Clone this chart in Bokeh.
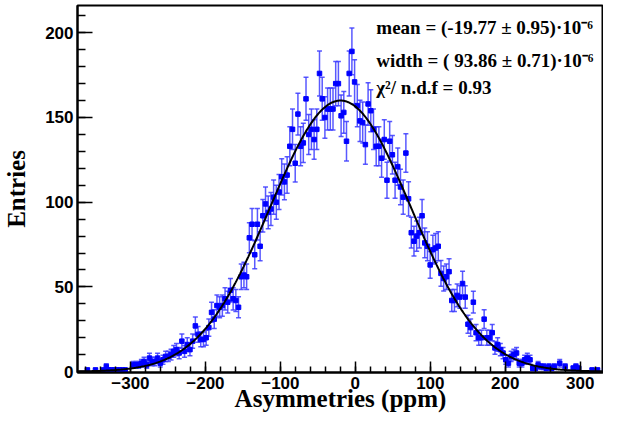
import numpy as np
from bokeh.plotting import figure
from bokeh.models import ColumnDataSource, Whisker, TeeHead, FixedTicker, Label, Range1d
from bokeh.embed import file_html
from bokeh.resources import INLINE

# ---------------- data ----------------
bin_low = -370.0
bin_width = 3.6
counts = [
    0, 0, 0, 1, 0, 0, 1, 0, 0, 1,
    3, 1, 1, 1, 1, 1, 1, 1, 0, 0,
    4, 4, 4, 5, 6, 4, 8, 6, 6, 8,
    5, 7, 9, 9, 10, 12, 13, 11, 18, 12,
    16, 13, 18, 27, 22, 19, 19, 20, 26, 35,
    31, 39, 38, 39, 43, 41, 48, 43, 42, 38,
    56, 57, 56, 79, 87, 69, 87, 74, 92, 99,
    94, 96, 103, 100, 106, 115, 112, 116, 133, 143,
    123, 152, 133, 135, 161, 140, 143, 137, 143, 176,
    161, 150, 155, 155, 155, 170, 170, 151, 153, 136,
    176, 189, 171, 157, 148, 147, 134, 158, 154, 143,
    133, 133, 126, 137, 113, 136, 128, 113, 121, 109,
    103, 129, 102, 82, 77, 80, 82, 92, 76, 74,
    63, 72, 73, 74, 58, 55, 56, 59, 42, 42,
    45, 44, 52, 44, 28, 26, 41, 23, 20, 20,
    31, 20, 20, 23, 14, 16, 13, 11, 7, 5,
    9, 10, 11, 5, 5, 7, 8, 7, 2, 2,
    4, 3, 3, 2, 3, 2, 3, 0, 5, 0,
    3, 0, 0, 2, 3, 2, 0, 0, 0, 0,
    1, 0, 1, 0, 0, 1, 0, 0, 0, 0,
]
fit_mean = -19.77
fit_width = 93.86
fit_amplitude = 160.0

x_major_ticks = [-300, -200, -100, 0, 100, 200, 300]
x_minor_ticks = list(range(-360, 340, 20))
y_major_ticks = [0, 50, 100, 150, 200]
y_minor_ticks = list(range(0, 216, 10))

x_title = "Asymmetries (ppm)"
y_title = "Entries"
stat_lines = [
    "mean = (-19.77 \u00b1 0.95)\u00b710\u207b\u2076",
    "width = ( 93.86 \u00b1 0.71)\u00b710\u207b\u2076",
    "\u03c7\u00b2/ n.d.f = 0.93",
]

# ---------------- derived ----------------
counts = np.array(counts, dtype=float)
centers = bin_low + bin_width * (np.arange(len(counts)) + 0.5)
mask = counts > 0
errs = np.sqrt(counts)
src = ColumnDataSource(dict(x=centers[mask], y=counts[mask],
                            lo=(counts - errs)[mask], hi=(counts + errs)[mask]))

xf = np.linspace(-370, 350, 600)
yf = fit_amplitude * np.exp(-0.5 * ((xf - fit_mean) / fit_width) ** 2)

# ---------------- figure ----------------
p = figure(width=603, height=415, output_backend="svg", toolbar_location=None,
           x_range=Range1d(-370.6, 331.0), y_range=Range1d(-0.5, 216.1),
           min_border_left=75, min_border_right=0, min_border_top=5, min_border_bottom=43)
p.xgrid.visible = False
p.ygrid.visible = False
p.outline_line_color = "black"
p.outline_line_width = 2
p.background_fill_color = "white"
p.border_fill_color = "white"

ebar = "#3c3cff"
whisk = Whisker(source=src, base="x", upper="hi", lower="lo", dimension="height",
                line_color=ebar, line_alpha=0.85, line_width=1.5,
                upper_head=TeeHead(size=5, line_color=ebar, line_alpha=0.85, line_width=1.5),
                lower_head=TeeHead(size=5, line_color=ebar, line_alpha=0.85, line_width=1.5))
p.add_layout(whisk)
p.scatter("x", "y", source=src, marker="square", size=4.5, color="#0000ff")
p.line(xf, yf, line_color="black", line_width=2)

for ax, maj, mnr, tin, tmin in ((p.xaxis, x_major_ticks, x_minor_ticks, 11, 6),
                                (p.yaxis, y_major_ticks, y_minor_ticks, 15, 8)):
    ax.ticker = FixedTicker(ticks=maj, minor_ticks=mnr)
    ax.major_tick_in = tin
    ax.major_tick_out = 0
    ax.minor_tick_in = tmin
    ax.minor_tick_out = 0
    ax.axis_line_width = 2
    ax.major_tick_line_width = 1.5
    ax.minor_tick_line_width = 1.5
    ax.major_label_text_font = "Liberation Sans"
    ax.major_label_text_font_style = "bold"
    ax.major_label_text_font_size = "17px"
    ax.major_label_text_color = "black"
    ax.axis_label_text_font = "Liberation Serif"
    ax.axis_label_text_font_style = "bold"
    ax.axis_label_text_font_size = "25px"
    ax.axis_label_text_color = "black"

p.xaxis.axis_label = x_title
p.yaxis.axis_label = y_title
p.xaxis.major_label_standoff = 4
p.yaxis.major_label_standoff = 4
p.xaxis.axis_label_standoff = -7
p.yaxis.axis_label_standoff = 12

for txt, yy in zip(stat_lines, [203.2, 183.6, 167.7]):
    p.add_layout(Label(x=28.0, y=yy, text=txt, text_font="Liberation Serif",
                       text_font_style="bold", text_font_size="19px",
                       text_baseline="alphabetic", text_color="black"))

open("out.html", "w").write(file_html(p, INLINE))
